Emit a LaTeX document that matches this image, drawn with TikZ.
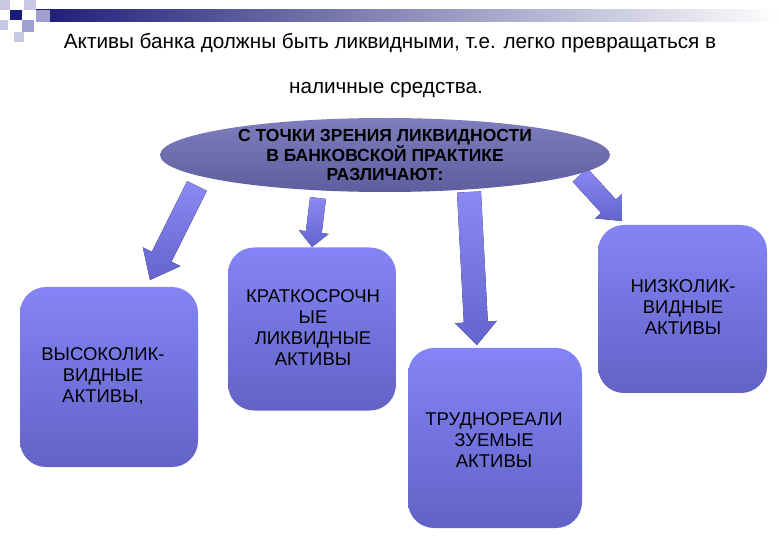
\documentclass[tikz,border=0pt]{standalone}
\usepackage{fontspec}
\setmainfont{Liberation Sans}
\usetikzlibrary{calc,shapes.geometric}
\definecolor{navy}{HTML}{1C1C78}
\definecolor{lav1}{HTML}{C8C8E4}
\definecolor{lav2}{HTML}{A0A0D0}
\definecolor{boxtop}{HTML}{8484F6}
\definecolor{boxbot}{HTML}{6262C6}
\definecolor{elltop}{HTML}{7E7EBE}
\definecolor{ellbot}{HTML}{5E5E9E}
\definecolor{arrtop}{HTML}{8A8AF2}
\definecolor{arrbot}{HTML}{6464CE}
\tikzset{
  assetbox/.style={rectangle, rounded corners=26pt, top color=boxtop, bottom color=boxbot,
    draw=none, inner sep=0pt},
  boxtext/.style={align=center, font=\fontsize{18.5}{21}\selectfont, inner sep=0pt},
  headell/.style={ellipse, top color=elltop, bottom color=ellbot, draw=none,
    minimum width=450pt, minimum height=74pt, align=center,
    font=\bfseries\fontsize{17.5}{19.5}\selectfont, inner sep=0pt},
  arrfill/.style={top color=arrtop, bottom color=arrbot, draw=none},
  titletext/.style={font=\fontsize{20.7}{22}\selectfont, inner sep=0pt}
}
% block arrow: #1 start, #2 tip, #3 half shaft, #4 half head, #5 head length
\newcommand\blockarr[5]{%
  \coordinate (hb) at ($(#2)!#5!(#1)$);
  \fill[arrfill] ($(#1)!#3!90:(#2)$) -- ($(hb)!#3!90:(#2)$) -- ($(hb)!#4!90:(#2)$)
    -- (#2) -- ($(hb)!#4!-90:(#2)$) -- ($(hb)!#3!-90:(#2)$) -- ($(#1)!#3!-90:(#2)$) -- cycle;
}
\begin{document}
\begin{tikzpicture}[x=1pt,y=-1pt]
\useasboundingbox (0,0) rectangle (780,540);
% decoration
\shade[left color=navy, right color=white] (36,10) rectangle (780,22);
\fill[lav1] (0,0) rectangle (10,10);
\fill[lav1] (24,0) rectangle (36,10);
\fill[lav2] (36,10) rectangle (50,22);
\fill[navy] (10,10) rectangle (22,20);
\fill[lav2] (22,20) rectangle (34,32);
\fill[lav1] (14,32) rectangle (24,42);
\fill[lav1] (0,20) rectangle (8,30);
% title
\node[titletext] (t1) at (390,43) {Активы банка должны быть ликвидными, т.е. легко превращаться в};
\node[titletext] (t2) at (386,90) {наличные средства.};
% arrow anchor coordinates
\coordinate (s1) at (197,186); \coordinate (e1) at (150,280);
\coordinate (s2) at (318,198); \coordinate (e2) at (312,247);
\coordinate (s3) at (469,192); \coordinate (e3) at (477,345);
\coordinate (s4) at (580,175); \coordinate (e4) at (622,221);
\blockarr{s1}{e1}{11pt}{21pt}{26pt}
\blockarr{s2}{e2}{8pt}{15pt}{15pt}
\blockarr{s3}{e3}{12pt}{21pt}{23pt}
\blockarr{s4}{e4}{10pt}{18pt}{20pt}
% ellipse
\node[headell] (ell) at (385,155) {С ТОЧКИ ЗРЕНИЯ ЛИКВИДНОСТИ\\В БАНКОВСКОЙ ПРАКТИКЕ\\РАЗЛИЧАЮТ:};
% boxes
\node[assetbox, minimum width=178pt, minimum height=180pt] (b1) at (109,377) {};
\node[boxtext] (l1) at (103,376) {ВЫСОКОЛИК-\\ВИДНЫЕ\\АКТИВЫ,};
\node[assetbox, minimum width=168pt, minimum height=163pt] (b2) at (312,329) {};
\node[boxtext] (l2) at (313,328) {КРАТКОСРОЧН\\ЫЕ\\ЛИКВИДНЫЕ\\АКТИВЫ};
\node[assetbox, minimum width=174pt, minimum height=180pt] (b3) at (495,438) {};
\node[boxtext] (l3) at (494,440) {ТРУДНОРЕАЛИ\\ЗУЕМЫЕ\\АКТИВЫ};
\node[assetbox, minimum width=169pt, minimum height=168pt] (b4) at (682.5,309) {};
\node[boxtext] (l4) at (683,307) {НИЗКОЛИК-\\ВИДНЫЕ\\АКТИВЫ};
\end{tikzpicture}
\end{document}
